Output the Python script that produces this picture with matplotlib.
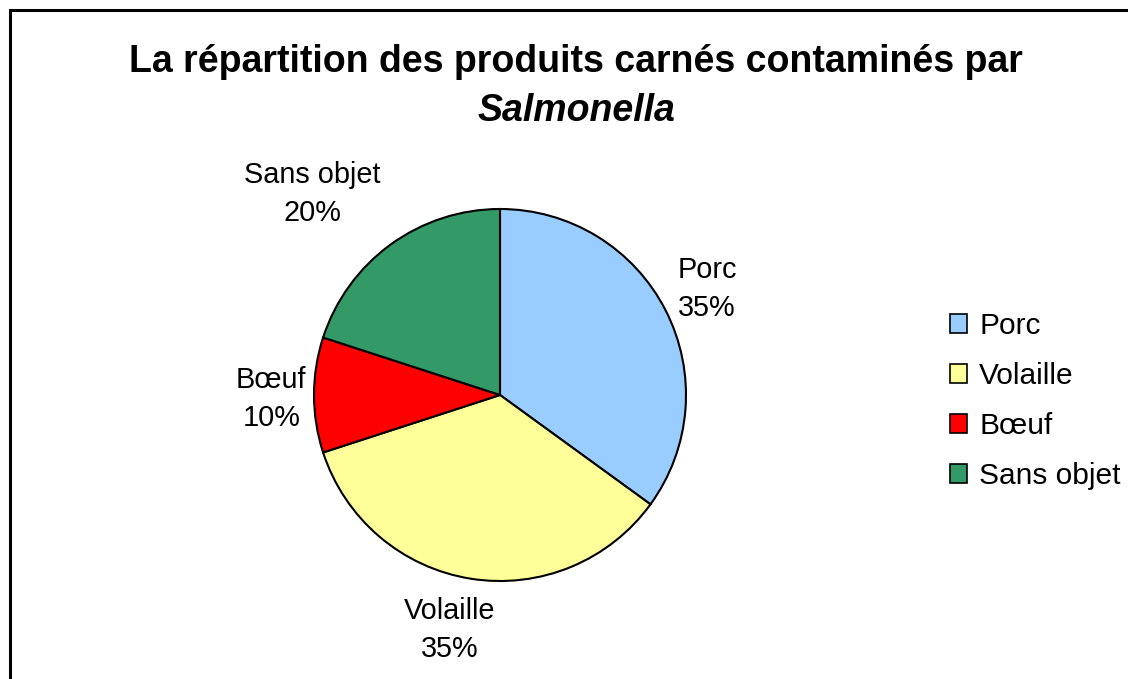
import matplotlib
matplotlib.use("Agg")
import matplotlib.pyplot as plt
from matplotlib.patches import Rectangle
import numpy as np

plt.rcParams['font.family'] = ['Liberation Sans', 'DejaVu Sans']

# data
categories = ["Porc", "Volaille", "Bœuf", "Sans objet"]
shares = [35, 35, 10, 20]
colors = ["#99CCFF", "#FFFF99", "#FF0000", "#339966"]
# excel puts its labels a bit irregularly: radial distance and angle nudge (deg)
label_dist = [1.25, 1.29, 1.23, 1.48]
label_nudge = [0, -3, 1, 7]

W, H = 1128, 679
fig = plt.figure(figsize=(W / 100, H / 100), dpi=100)

# chart area frame (right/bottom edges fall outside the picture)
fig.patches.append(Rectangle((10 / W, -0.05), 1.2, 1 - 10 / H + 0.05,
                             transform=fig.transFigure, fill=False,
                             edgecolor="black", linewidth=2.2))

# pie: centre (500, 395) px, radius 186 px
cx, cy, r = 500, 395, 186
ax = fig.add_axes([(cx - r) / W, (H - cy - r) / H, 2 * r / W, 2 * r / H])
wedges, texts = ax.pie(shares, colors=colors, startangle=90, counterclock=False,
                       labels=[f"{c}\n{s}%" for c, s in zip(categories, shares)],
                       wedgeprops=dict(edgecolor="black", linewidth=1.5),
                       textprops=dict(fontsize=20.8, ha="center", va="center",
                                      linespacing=1.45))
for w, t, d, n in zip(wedges, texts, label_dist, label_nudge):
    ang = np.deg2rad((w.theta1 + w.theta2) / 2 + n)
    t.set_position((d * np.cos(ang), d * np.sin(ang)))
    t.set_ha("center")
    t.set_va("center")
ax.set_xlim(-1, 1)
ax.set_ylim(-1, 1)
ax.set_aspect("equal")
ax.axis("off")

fig.text(576 / W, 1 - 62 / H, "La répartition des produits carnés contaminés par",
         ha="center", va="center", fontsize=27, fontweight="bold")
fig.text(576 / W, 1 - 111 / H, "Salmonella", ha="center", va="center",
         fontsize=27, fontweight="bold", style="italic")

leg = fig.legend(wedges, categories, loc="upper left",
                 bbox_to_anchor=(950 / W, 1 - 312 / H), frameon=False,
                 fontsize=21.5, handlelength=0.58, handleheight=0.58,
                 handletextpad=0.4, labelspacing=0.74, borderpad=0,
                 borderaxespad=0)
for h in leg.legend_handles:
    h.set_linewidth(1.2)

fig.savefig("out.png", dpi=100)
